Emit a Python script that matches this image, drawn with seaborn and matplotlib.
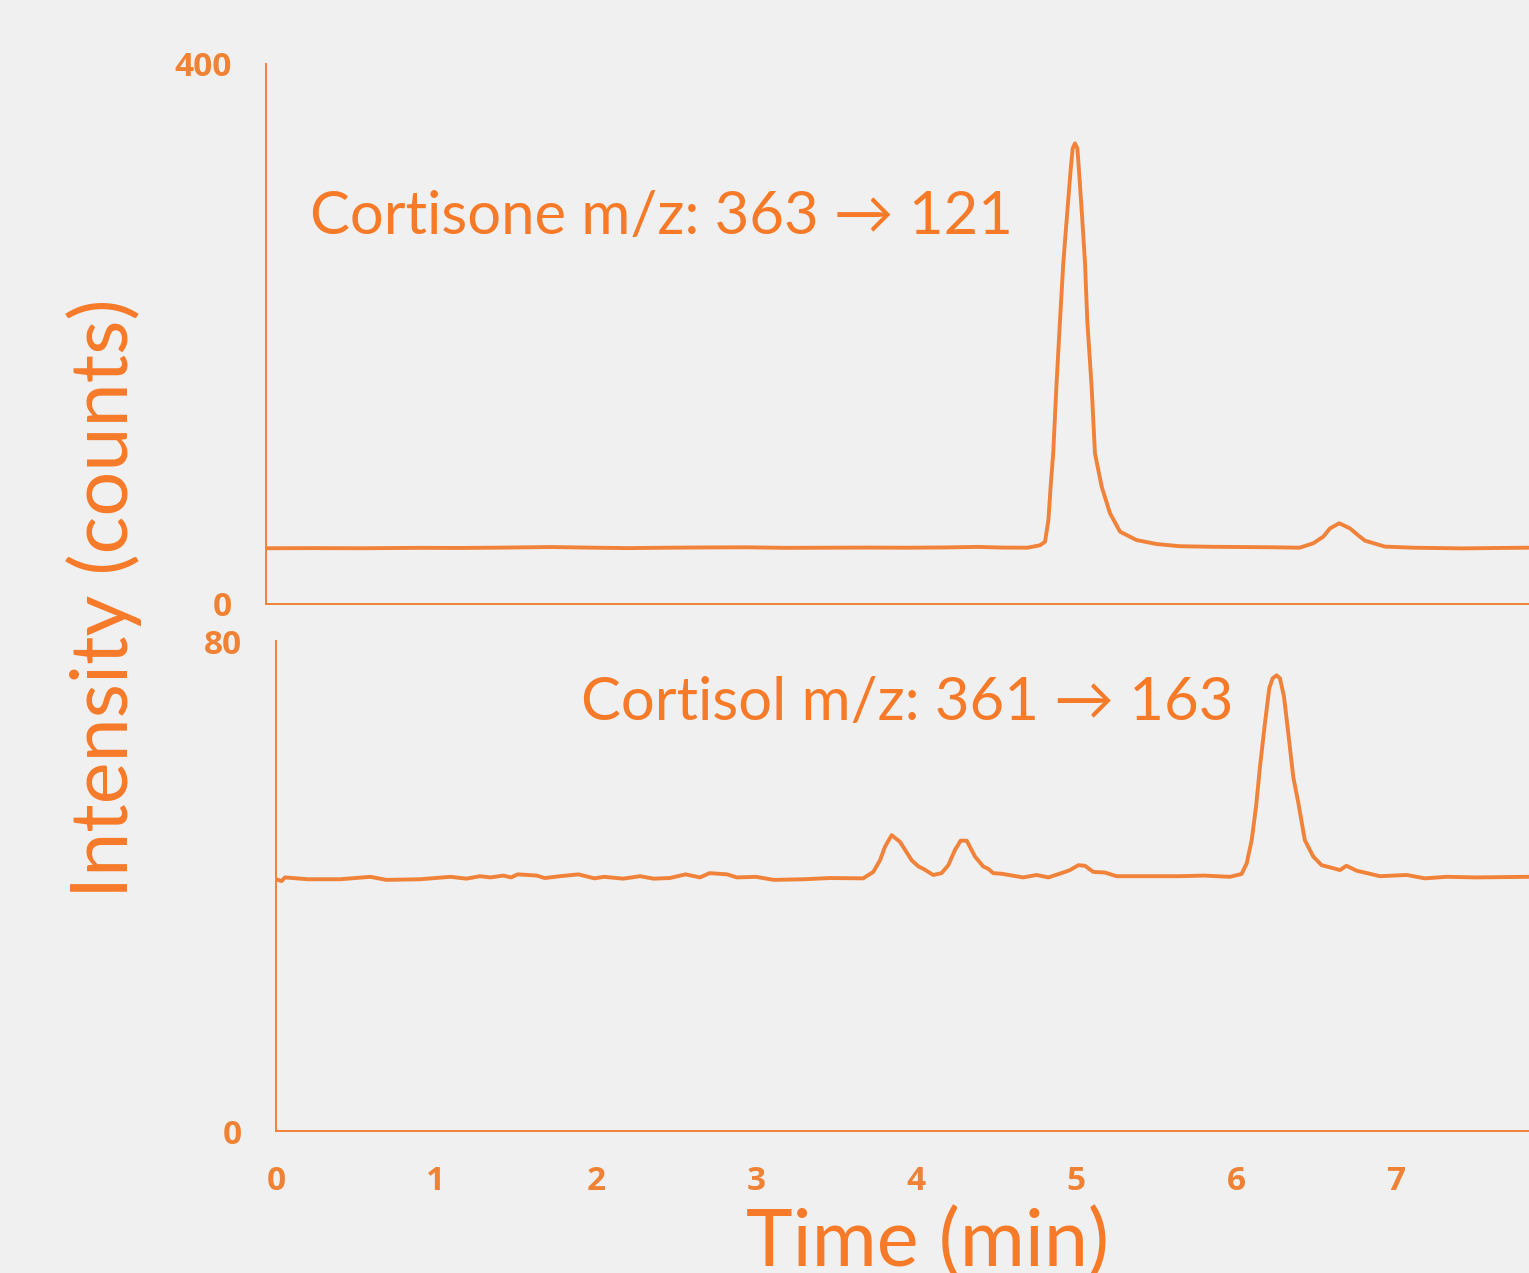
import matplotlib
matplotlib.use("Agg")
import matplotlib.pyplot as plt
import seaborn as sns
import pandas as pd

# ---------------- data ----------------
cortisone_time = [0.0, 0.3, 0.6, 0.96, 1.2, 1.5, 1.78, 2.0, 2.26, 2.5, 2.75, 3.0, 3.25,
                  3.5, 3.75, 4.0, 4.25, 4.45, 4.6, 4.76, 4.8375, 4.869, 4.89, 4.904,
                  4.92, 4.94, 4.9625, 4.983, 5.004, 5.029, 5.042, 5.056, 5.071, 5.081,
                  5.102, 5.119, 5.133, 5.16, 5.181, 5.223, 5.275, 5.3375, 5.44, 5.567,
                  5.71, 5.9, 6.1, 6.3, 6.46, 6.546, 6.608, 6.65, 6.708, 6.775, 6.83,
                  6.869, 6.994, 7.17, 7.48, 7.7, 7.89]
cortisone_counts = [41.3, 41.4, 41.3, 41.6, 41.5, 41.8, 42.2, 41.8, 41.4, 41.7, 41.9, 42.0,
                    41.6, 41.7, 41.8, 41.7, 41.9, 42.3, 41.8, 41.7, 43.5, 46.1, 62.2, 86.9,
                    111.6, 161.0, 210.0, 252.3, 284.4, 321.5, 337.5, 341.2, 337.5, 321.5,
                    284.4, 252.3, 210.0, 161.0, 111.6, 86.9, 67.2, 53.6, 47.4, 44.4, 42.8,
                    42.4, 42.2, 42.0, 41.7, 45.0, 49.9, 56.0, 59.8, 56.0, 50.5, 46.9, 42.5,
                    41.7, 41.2, 41.5, 41.7]

cortisol_time = [0.0, 0.035, 0.056, 0.2, 0.4, 0.59, 0.69, 0.9, 1.09, 1.19, 1.275, 1.34,
                 1.42, 1.47, 1.51, 1.63, 1.68, 1.775, 1.89, 1.99, 2.05, 2.17, 2.275, 2.36,
                 2.46, 2.56, 2.65, 2.71, 2.82, 2.88, 3.0, 3.11, 3.3, 3.46, 3.67, 3.733,
                 3.775, 3.806, 3.848, 3.9, 3.973, 4.015, 4.046, 4.108, 4.16, 4.202, 4.244,
                 4.279, 4.317, 4.369, 4.42, 4.452, 4.483, 4.535, 4.67, 4.754, 4.827, 4.92,
                 4.9625, 5.015, 5.056, 5.108, 5.18, 5.254, 5.4, 5.65, 5.8, 5.9625, 6.035,
                 6.067, 6.098, 6.125, 6.15, 6.181, 6.208, 6.229, 6.254, 6.275, 6.3, 6.327,
                 6.358, 6.39, 6.43, 6.483, 6.535, 6.608, 6.65, 6.69, 6.754, 6.9, 7.067,
                 7.18, 7.317, 7.5, 7.83]
cortisol_counts = [41.1, 40.8, 41.4, 41.1, 41.1, 41.5, 41.0, 41.1, 41.5, 41.2, 41.6, 41.4,
                   41.7, 41.4, 41.9, 41.7, 41.3, 41.6, 41.9, 41.25, 41.5, 41.2, 41.6, 41.2,
                   41.3, 41.9, 41.4, 42.1, 41.9, 41.4, 41.5, 41.0, 41.1, 41.3, 41.25, 42.3,
                   44.2, 46.4, 48.3, 47.2, 44.2, 43.2, 42.8, 41.8, 42.1, 43.4, 45.9, 47.4,
                   47.4, 44.8, 43.2, 42.8, 42.1, 42.0, 41.4, 41.8, 41.4, 42.2, 42.6, 43.4,
                   43.3, 42.3, 42.2, 41.6, 41.6, 41.6, 41.7, 41.5, 41.96, 43.7, 47.5, 52.9,
                   59.5, 66.6, 72.3, 73.9, 74.4, 73.9, 70.9, 64.9, 57.8, 53.5, 47.5, 44.8,
                   43.4, 42.9, 42.6, 43.3, 42.5, 41.6, 41.8, 41.25, 41.5, 41.4, 41.5]

top_yticks = [0, 400]
bottom_yticks = [0, 80]
xticks = [0, 1, 2, 3, 4, 5, 6, 7]
top_label = "Cortisone m/z: 363 \u2192 121"
bottom_label = "Cortisol m/z: 361 \u2192 163"
xlabel = "Time (min)"
ylabel = "Intensity (counts)"

# ---------------- style ----------------
BG = "#F0F0F0"
ORANGE = "#F0823A"
TXT = "#F77A28"
TICK = "#EF8235"
THIN = ["Lato", "DejaVu Sans"]
BOLD = ["Open Sans", "DejaVu Sans"]

sns.set_theme(style="white")
plt.rcParams["font.family"] = ["Lato", "DejaVu Sans"]
plt.rcParams["axes.facecolor"] = BG
plt.rcParams["figure.facecolor"] = BG

W, H = 1529, 1273
fig = plt.figure(figsize=(W / 100, H / 100), dpi=100)
fig.patch.set_facecolor(BG)

ax1 = fig.add_axes([266 / W, 1 - 604 / H, (W - 266) / W, 540 / H])
ax2 = fig.add_axes([276 / W, 1 - 1131 / H, (W - 276) / W, 490 / H])

df_top = pd.DataFrame({"time": cortisone_time, "counts": cortisone_counts})
df_bot = pd.DataFrame({"time": cortisol_time, "counts": cortisol_counts})

sns.lineplot(data=df_top, x="time", y="counts", ax=ax1, color=ORANGE, linewidth=2.8)
sns.lineplot(data=df_bot, x="time", y="counts", ax=ax2, color=ORANGE, linewidth=2.8)

px_per_min = 160
ax1.set_xlim(0, (W - 266) / px_per_min)
ax2.set_xlim(0, (W - 276) / px_per_min)
ax1.set_ylim(0, 400)
ax2.set_ylim(0, 80)

for ax in (ax1, ax2):
    ax.set_facecolor(BG)
    ax.set_xlabel("")
    ax.set_ylabel("")
    for s in ("top", "right"):
        ax.spines[s].set_visible(False)
    for s in ("left", "bottom"):
        ax.spines[s].set_color(TICK)
        ax.spines[s].set_linewidth(1.4)
    ax.tick_params(axis="both", direction="out", length=8.6, width=1.4, color=TICK,
                   labelcolor=TICK, pad=16)

tick_font = dict(family=BOLD, weight="bold", size=24)
ax1.set_yticks(top_yticks)
ax1.set_yticklabels([str(v) for v in top_yticks], fontdict=tick_font)
ax1.set_xticks([])
ax2.set_yticks(bottom_yticks)
ax2.set_yticklabels([str(v) for v in bottom_yticks], fontdict=tick_font)
ax2.set_xticks(xticks)
ax2.set_xticklabels([str(v) for v in xticks], fontdict=tick_font)

ax1.text(0.275, 274, top_label, color=TXT, fontsize=43, family=THIN,
         ha="left", va="baseline")
ax2.text(1.906, 67.1, bottom_label, color=TXT, fontsize=43, family=THIN,
         ha="left", va="baseline")

fig.text(104 / W, 1 - 598 / H, ylabel, rotation=90, color=TXT, fontsize=57,
         family=THIN, ha="center", va="center")
fig.text(927 / W, 1 - 1266 / H, xlabel, color=TXT, fontsize=57,
         family=THIN, ha="center", va="baseline")

fig.savefig("out.png", dpi=100, facecolor=BG)
